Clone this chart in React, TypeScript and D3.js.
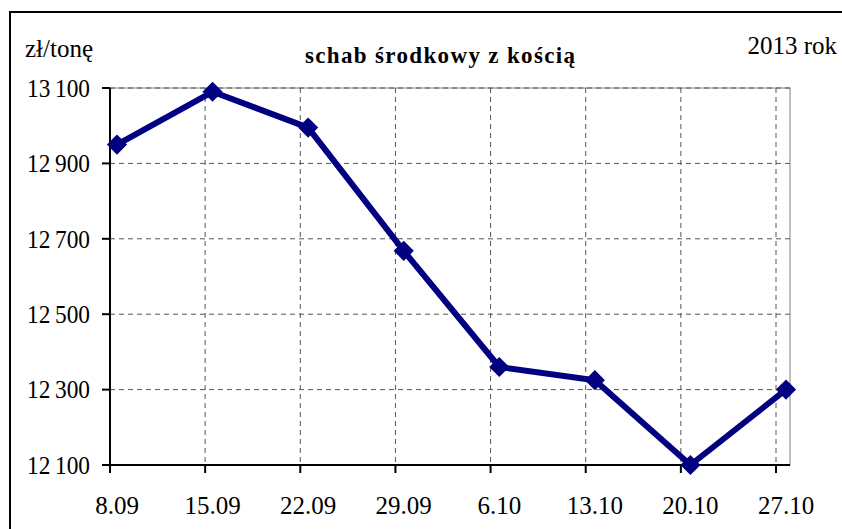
import React from "react";
import * as d3 from "d3";

const categories = ["8.09", "15.09", "22.09", "29.09", "6.10", "13.10", "20.10", "27.10"];
const values = [12950, 13090, 12995, 12668, 12360, 12325, 12100, 12300];
const yTicks = [12100, 12300, 12500, 12700, 12900, 13100];
const title = "schab środkowy z kością";
const unitLabel = "zł/tonę";
const yearLabel = "2013 rok";

const W = 842;
const H = 529;
const left = 110;
const right = 790;
const top = 88;
const bottom = 465;

const fmt = (v: number) => {
  const s = String(v);
  return s.slice(0, s.length - 3) + "\u2009" + s.slice(-3);
};

export default function App() {
  const y = d3.scaleLinear().domain([12100, 13100]).range([bottom, top]);
  const xTick = d3.scaleLinear().domain([0, categories.length - 1]).range([left, 776]);
  const xPt = d3.scaleLinear().domain([0, categories.length - 1]).range([117, 786]);
  const line = d3
    .line<number>()
    .x((_, i) => xPt(i))
    .y((d) => y(d));
  const diamond = d3.symbol().type(d3.symbolDiamond2).size(260)();
  const font = "'Liberation Serif', 'Times New Roman', serif";

  return (
    <div style={{ position: "absolute", left: 0, top: 0 }}>
      <svg width={W} height={H} style={{ display: "block", background: "#fff", fontFamily: font }}>
        <rect x={10} y={12} width={W + 20} height={H + 20} fill="#fff" stroke="#000" strokeWidth={2} />
        <rect x={left} y={top} width={right - left} height={bottom - top} fill="none" stroke="#808080" strokeWidth={1} />
        {yTicks.slice(1).map((t) => (
          <line key={"h" + t} x1={left} x2={right} y1={y(t)} y2={y(t)} stroke="#555" strokeWidth={1} strokeDasharray="5,4" />
        ))}
        {categories.slice(1).map((c, i) => (
          <line key={"v" + c} x1={xTick(i + 1)} x2={xTick(i + 1)} y1={top} y2={bottom} stroke="#555" strokeWidth={1} strokeDasharray="5,4" />
        ))}
        <line x1={left} x2={left} y1={top} y2={bottom + 8} stroke="#000" strokeWidth={2} />
        <line x1={left - 8} x2={right} y1={bottom} y2={bottom} stroke="#000" strokeWidth={2} />
        {yTicks.map((t) => (
          <g key={"yt" + t}>
            <line x1={left - 8} x2={left} y1={y(t)} y2={y(t)} stroke="#000" strokeWidth={2} />
            <text x={90} y={y(t)} dy="0.35em" textAnchor="end" fontSize={25} fill="#000" textLength={63} lengthAdjust="spacingAndGlyphs">
              {fmt(t)}
            </text>
          </g>
        ))}
        {categories.map((c, i) => (
          <g key={"xt" + c}>
            <line x1={xTick(i)} x2={xTick(i)} y1={bottom} y2={bottom + 8} stroke="#000" strokeWidth={2} />
            <text x={xPt(i)} y={514} textAnchor="middle" fontSize={25} fill="#000">
              {c}
            </text>
          </g>
        ))}
        <path d={line(values) || ""} fill="none" stroke="#000080" strokeWidth={6} strokeLinejoin="round" />
        {values.map((v, i) => (
          <path key={"m" + i} d={diamond || ""} transform={`translate(${xPt(i)},${y(v)})`} fill="#000080" />
        ))}
        <text x={25} y={57} fontSize={25} fill="#000">{unitLabel}</text>
        <text x={440} y={63} textAnchor="middle" fontSize={23} fontWeight="bold" fill="#000" textLength={270} lengthAdjust="spacing">
          {title}
        </text>
        <text x={837} y={54} textAnchor="end" fontSize={25} fill="#000">{yearLabel}</text>
      </svg>
    </div>
  );
}
